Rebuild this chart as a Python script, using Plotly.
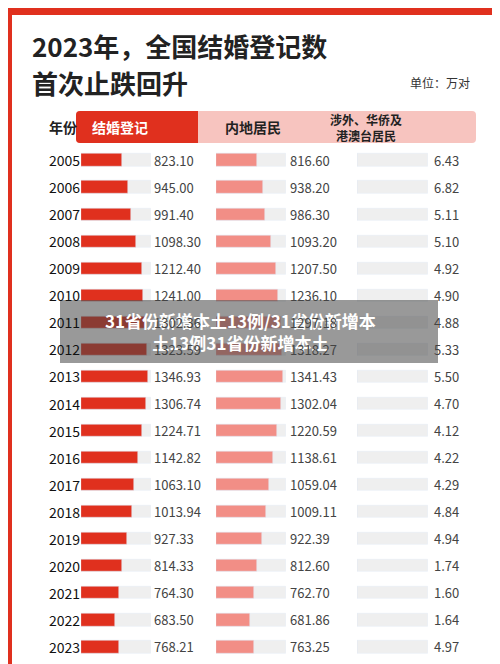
import plotly.graph_objects as go

years = [str(y) for y in range(2005, 2024)]
total = [823.10, 945.00, 991.40, 1098.30, 1212.40, 1241.00, 1302.36, 1323.59, 1346.93, 1306.74,
         1224.71, 1142.82, 1063.10, 1013.94, 927.33, 814.33, 764.30, 683.50, 768.21]
mainland = [816.60, 938.20, 986.30, 1093.20, 1207.50, 1236.10, 1297.18, 1318.27, 1341.43, 1302.04,
            1220.59, 1138.61, 1059.04, 1009.11, 922.39, 812.60, 762.70, 681.86, 763.25]
foreign = [6.43, 6.82, 5.11, 5.10, 4.92, 4.90, 4.88, 5.33, 5.50, 4.70,
           4.12, 4.22, 4.29, 4.84, 4.94, 1.74, 1.60, 1.64, 4.97]
headers = ["结婚登记", "内地居民", "涉外、华侨及<br>港澳台居民"]

OFF = 8  # page body margin
W, H = 500 - OFF, 664 - OFF
def px(x): return (x - OFF) / W
def py(y): return 1 - (y - OFF) / H

FONT = "Noto Sans CJK SC"
fig = go.Figure()
idx = list(range(len(years)))
series = [(total, "#e0301e", "x"), (mainland, "#f28e86", "x2"), (foreign, "#f0a49c", "x3")]
TRACK = 1400
for vals, col, xa in series:
    fig.add_trace(go.Bar(y=idx, x=[TRACK] * len(years), orientation="h", marker_color="#efefef",
                         width=0.45, xaxis=xa, yaxis="y", hoverinfo="skip", showlegend=False))
    fig.add_trace(go.Bar(y=idx, x=vals, orientation="h", marker_color=col, customdata=years,
                         width=0.45, xaxis=xa, yaxis="y", showlegend=False))

doms = [(81, 151), (216, 286), (357, 428)]
layout = dict(width=W, height=H, margin=dict(l=0, r=0, t=0, b=0), barmode="overlay",
              paper_bgcolor="#e0301e", plot_bgcolor="rgba(0,0,0,0)",
              font=dict(family=FONT, color="#222"), bargap=0)
for i, (a, b) in enumerate(doms):
    key = "xaxis" if i == 0 else f"xaxis{i+1}"
    layout[key] = dict(domain=[px(a), px(b)], range=[0, TRACK], visible=False, fixedrange=True)
y_top, y_bot = py(146.5), py(660.5)
layout["yaxis"] = dict(domain=[max(0, y_bot), y_top], range=[len(years) - 0.5 + (0 if y_bot >= 0 else 0), -0.5],
                       visible=False, fixedrange=True)
fig.update_layout(**layout)

def rr(x0, x1, y0, y1, r=4, right_round=True):
    if right_round:
        return (f"M {px(x0+r)},{py(y0)} L {px(x1-r)},{py(y0)} Q {px(x1)},{py(y0)} {px(x1)},{py(y0+r)} "
                f"L {px(x1)},{py(y1-r)} Q {px(x1)},{py(y1)} {px(x1-r)},{py(y1)} L {px(x0+r)},{py(y1)} "
                f"Q {px(x0)},{py(y1)} {px(x0)},{py(y1-r)} L {px(x0)},{py(y0+r)} Q {px(x0)},{py(y0)} {px(x0+r)},{py(y0)} Z")
    return (f"M {px(x0+r)},{py(y0)} L {px(x1)},{py(y0)} L {px(x1)},{py(y1)} L {px(x0+r)},{py(y1)} "
            f"Q {px(x0)},{py(y1)} {px(x0)},{py(y1-r)} L {px(x0)},{py(y0+r)} Q {px(x0)},{py(y0)} {px(x0+r)},{py(y0)} Z")

shapes = [
    dict(type="rect", xref="paper", yref="paper", x0=px(12), x1=px(492), y0=0, y1=py(15),
         fillcolor="white", line_width=0, layer="below"),
    dict(type="path", xref="paper", yref="paper", path=rr(76, 476, 111, 143),
         fillcolor="#f7c4bf", line_width=0, layer="below"),
    dict(type="path", xref="paper", yref="paper", path=rr(76, 198, 111, 143, right_round=False),
         fillcolor="#e0301e", line_width=0, layer="below"),
    dict(type="rect", xref="paper", yref="paper", x0=px(60), x1=px(438), y0=py(363), y1=py(300),
         fillcolor="rgba(70,70,70,0.55)", line_width=0, layer="above"),
]
ann = [
    dict(text="<b>2023年，全国结婚登记数</b>", x=px(30), y=py(45), xanchor="left", font=dict(size=26, color="#222")),
    dict(text="<b>首次止跌回升</b>", x=px(30), y=py(82), xanchor="left", font=dict(size=26, color="#222")),
    dict(text="单位：万对", x=px(472), y=py(82), xanchor="right", font=dict(size=12, color="#333")),
    dict(text="<b>年份</b>", x=px(47), y=py(127), font=dict(size=14, color="#222")),
    dict(text="<b>" + headers[0] + "</b>", x=px(90), y=py(127), xanchor="left", font=dict(size=14, color="white")),
    dict(text="<b>" + headers[1] + "</b>", x=px(253), y=py(127), font=dict(size=14, color="#222")),
    dict(text="<b>" + headers[2] + "</b>", x=px(404), y=py(127), font=dict(size=12, color="#222")),
    dict(text="<b>31省份新增本土13例/31省份新增本<br>土13例31省份新增本土</b>", x=px(240), y=py(331),
         font=dict(size=17, color="white")),
]
for a in ann:
    a.update(xref="paper", yref="paper", showarrow=False, yanchor="middle")
for i, yr in enumerate(years):
    ann.append(dict(text=yr, x=px(47), y=i, xref="paper", yref="y", showarrow=False,
                    font=dict(size=14, color="#111")))
    ann.append(dict(text=f"{total[i]:.2f}", x=px(152), y=i, xref="paper", yref="y", xanchor="left",
                    showarrow=False, font=dict(size=13, color="#444")))
    ann.append(dict(text=f"{mainland[i]:.2f}", x=px(288), y=i, xref="paper", yref="y", xanchor="left",
                    showarrow=False, font=dict(size=13, color="#444")))
    ann.append(dict(text=f"{foreign[i]:.2f}", x=px(461), y=i, xref="paper", yref="y", xanchor="right",
                    showarrow=False, font=dict(size=13, color="#444")))
fig.update_layout(shapes=shapes, annotations=ann)
fig.write_html("out.html")
